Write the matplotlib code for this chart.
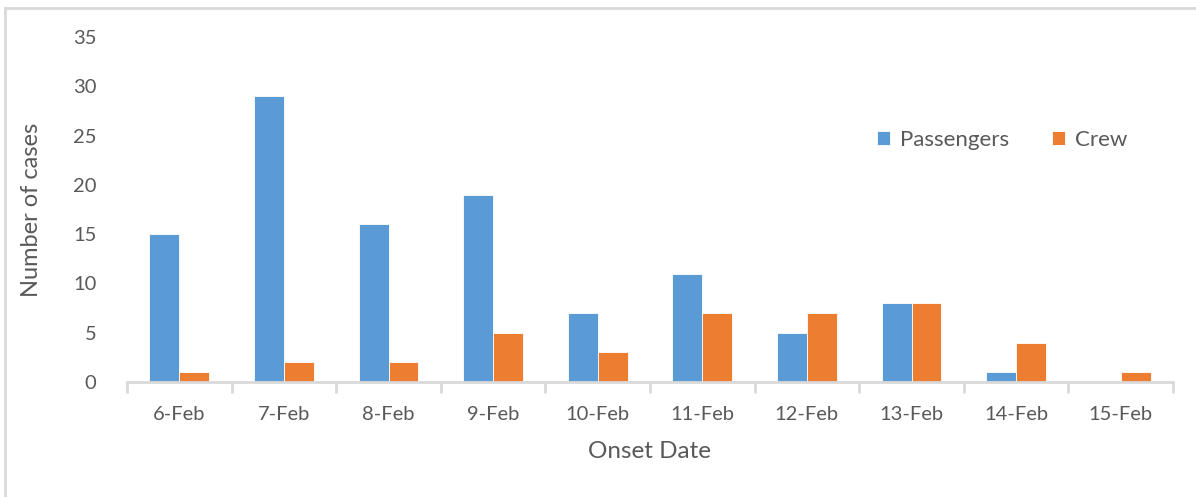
import numpy as np
import matplotlib.pyplot as plt
from matplotlib.lines import Line2D

# donnees
dates = ['6-Feb', '7-Feb', '8-Feb', '9-Feb', '10-Feb', '11-Feb', '12-Feb', '13-Feb', '14-Feb', '15-Feb']
passagers = [15, 29, 16, 19, 7, 11, 5, 8, 1, 0]
equipage = [1, 2, 2, 5, 3, 7, 7, 8, 4, 1]

bleu = '#5B9BD5'
orange = '#ED7D31'
gris_texte = '#595959'
gris_ligne = '#D9D9D9'

plt.rcParams['font.family'] = ['Lato', 'DejaVu Sans']

W, H = 1196, 497
fig = plt.figure(figsize=(W / 100, H / 100), dpi=100)
ax = fig.add_axes([127 / W, (H - 382) / H, (1173 - 127) / W, (382 - 37) / H])

x = np.arange(len(dates))
w = 0.285
ax.bar(x - w / 2, passagers, w, color=bleu, edgecolor='white', linewidth=0.6, label='Passengers')
ax.bar(x + w / 2, equipage, w, color=orange, edgecolor='white', linewidth=0.6, label='Crew')

ax.set_xlim(-0.5, len(dates) - 0.5)
ax.set_ylim(0, 35)
ax.set_yticks(range(0, 36, 5))

for s in ['top', 'right', 'left']:
    ax.spines[s].set_visible(False)
ax.spines['bottom'].set_color(gris_ligne)
ax.spines['bottom'].set_linewidth(2)

ax.set_xticks(x)
ax.set_xticklabels(dates)
ax.set_xticks(np.arange(-0.5, len(dates)), minor=True)
ax.tick_params(axis='x', which='major', length=0, pad=17, labelsize=14.5, labelcolor=gris_texte)
ax.tick_params(axis='x', which='minor', length=8, width=2, color=gris_ligne)
ax.tick_params(axis='y', length=0, pad=22, labelsize=14.5, labelcolor=gris_texte)

ax.set_ylabel('Number of cases', fontsize=17, color=gris_texte)
ax.yaxis.set_label_coords(-85 / (1173 - 127), 0.5)
ax.set_xlabel('Onset Date', fontsize=17.5, color=gris_texte)
ax.xaxis.set_label_coords(0.5, -(441 - 382) / (382 - 37))

leg = ax.legend(ncol=2, frameon=False, loc='center left', fontsize=16,
                bbox_to_anchor=(857 / W, 1 - 140 / H), bbox_transform=fig.transFigure,
                handlelength=0.6, handleheight=0.6, columnspacing=1.9, handletextpad=0.45)
for t in leg.get_texts():
    t.set_color(gris_texte)

# cadre du graphique
fig.add_artist(Line2D([5 / W, 5 / W], [0, 1 - 8 / H], color=gris_ligne, lw=2, transform=fig.transFigure))
fig.add_artist(Line2D([5 / W, 1], [1 - 8 / H, 1 - 8 / H], color=gris_ligne, lw=2, transform=fig.transFigure))

fig.savefig('out.png', dpi=100)
